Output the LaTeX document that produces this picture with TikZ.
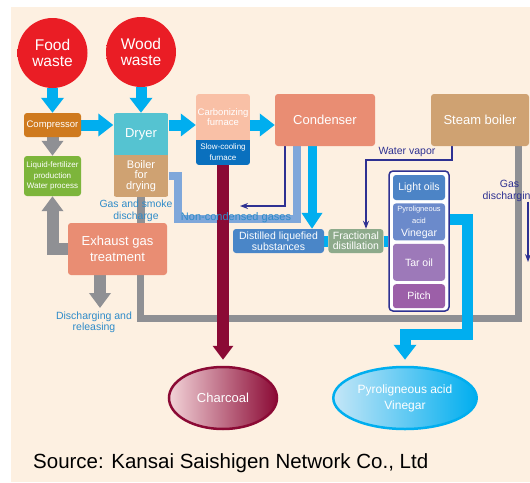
\documentclass[tikz,border=0pt]{standalone}
\usepackage{fontspec}
\setmainfont{Liberation Sans}
\usetikzlibrary{arrows.meta,positioning,shapes.geometric}

\definecolor{cream}{HTML}{FDF0E1}
\definecolor{cyanc}{HTML}{00AEEF}
\definecolor{grayc}{HTML}{8F9094}
\definecolor{maroonc}{HTML}{8B0A35}
\definecolor{navyc}{HTML}{2E3192}
\definecolor{lightb}{HTML}{7FA7DA}
\definecolor{labelb}{HTML}{2E8BC9}
\definecolor{compc}{HTML}{CF7A1E}
\definecolor{dryerc}{HTML}{55C3D1}
\definecolor{tanc}{HTML}{CFA272}
\definecolor{carbc}{HTML}{F9C0A6}
\definecolor{slowc}{HTML}{0A70BE}
\definecolor{salmonc}{HTML}{E98D73}
\definecolor{liqc}{HTML}{7DB53B}
\definecolor{distc}{HTML}{4A86C8}
\definecolor{fracc}{HTML}{8DAA8B}
\definecolor{oilc}{HTML}{4C84C6}
\definecolor{pyroc}{HTML}{6B8ACB}
\definecolor{tarc}{HTML}{9D79B9}
\definecolor{pitchc}{HTML}{9C5FA8}
\definecolor{charL}{HTML}{F2D3D8}
\definecolor{vinL}{HTML}{C4E6F7}
\definecolor{glowin}{HTML}{EA1D25}
\definecolor{glowmid}{HTML}{F0503C}
\definecolor{glowout}{HTML}{FAD3C0}

\pgfdeclareradialshading{wasteglow}{\pgfpoint{0bp}{0bp}}{color(0bp)=(glowin); color(27bp)=(glowin); color(41bp)=(glowmid); color(50bp)=(glowout)}

\pgfdeclarelayer{bg}
\pgfdeclarelayer{pipes}
\pgfsetlayers{bg,pipes,main}

\tikzset{
  box/.style={rounded corners=3pt, text=white, align=center, inner sep=1pt},
  part/.style={text=white, align=center, inner sep=1pt},
  waste/.style={circle, minimum size=70pt, inner sep=0pt, shading=wasteglow,
    text=white, align=center, font=\fontsize{15.5}{16}\selectfont},
  cyanpipe/.style={draw=cyanc, line width=11pt},
  cyanarrow/.style={cyanpipe, -{Triangle[width=22pt,length=15pt]}},
  graypipe/.style={draw=grayc, line width=7pt},
  grayarrow/.style={draw=grayc, line width=12pt, -{Triangle[width=21pt,length=15pt]}},
  maroonarrow/.style={draw=maroonc, line width=12pt, -{Triangle[width=20pt,length=14pt]}},
  navyarrow/.style={draw=navyc, line width=1.6pt, -{Stealth[length=8pt,width=6pt]}},
  note/.style={text=labelb, align=center, inner sep=0pt},
}

\begin{document}
\begin{tikzpicture}[x=1pt,y=-1pt]
\useasboundingbox (0,0) rectangle (530,482);
\begin{pgfonlayer}{bg}
  \fill[white] (0,0) rectangle (530,482);
  \fill[cream] (11,7) rectangle (530,482);
\end{pgfonlayer}

% inputs
\node[waste] (food) at (52.5,53) {Food\\waste};
\node[waste] (wood) at (141,52) {Wood\\waste};

% boxes
\node[box, fill=compc, minimum width=57pt, minimum height=24pt, font=\fontsize{9.5}{11}\selectfont] (comp) at (52.5,125) {Compressor};
\node[box, fill=liqc, minimum width=57pt, minimum height=40pt, font=\fontsize{8}{10.5}\selectfont] (liq) at (52.5,176) {Liquid-fertilizer\\production\\Water process};
\begin{scope}
  \clip[rounded corners=3pt] (113.5,113) rectangle (168.5,197);
  \node[part, fill=dryerc, minimum width=55pt, minimum height=42pt, font=\fontsize{13}{15}\selectfont] (dryer) at (141,134) {Dryer};
  \node[part, fill=tanc, minimum width=55pt, minimum height=42pt, font=\fontsize{11}{10.3}\selectfont] (boiler) at (141,176) {Boiler\\for\\drying};
\end{scope}
\begin{scope}
  \clip[rounded corners=3pt] (196,94) rectangle (250,165);
  \node[part, fill=carbc, minimum width=54pt, minimum height=46pt, font=\fontsize{9.5}{10}\selectfont] (carb) at (223,117) {Carbonizing\\furnace};
  \node[part, fill=slowc, minimum width=54pt, minimum height=25pt, font=\fontsize{8}{11}\selectfont] (slow) at (223,152.5) {Slow-cooling\\furnace};
\end{scope}
\node[box, fill=salmonc, minimum width=100pt, minimum height=52pt, font=\fontsize{13}{15}\selectfont] (cond) at (325,120) {Condenser};
\node[box, fill=tanc, minimum width=98pt, minimum height=52pt, font=\fontsize{13}{15}\selectfont] (steam) at (480,120) {Steam boiler};
\node[box, fill=salmonc, minimum width=99pt, minimum height=52pt, font=\fontsize{13}{15.5}\selectfont] (exh) at (117.5,249) {Exhaust gas\\treatment};
\node[box, fill=distc, minimum width=91pt, minimum height=24pt, font=\fontsize{10.5}{11}\selectfont] (dist) at (278.5,241) {Distilled liquefied\\substances};
\node[box, fill=fracc, minimum width=55pt, minimum height=24pt, font=\fontsize{10.5}{10}\selectfont, right=4pt of dist] (frac) {Fractional\\distillation};

% products
\node[draw=navyc, line width=1.5pt, rounded corners=4pt, fill=white, minimum width=60pt, minimum height=140pt] (group) at (419,241) {};
\node[box, fill=oilc, minimum width=52pt, minimum height=25pt, font=\fontsize{10.5}{12}\selectfont] (light) at (419,187.5) {Light oils};
\node[box, fill=pyroc, minimum width=52pt, minimum height=37pt, below=3pt of light] (pyro)
  {\fontsize{7.5}{8}\selectfont Pyroligneous\\\fontsize{7.5}{8}\selectfont acid\\[1pt]\fontsize{10.5}{12}\selectfont Vinegar};
\node[box, fill=tarc, minimum width=52pt, minimum height=37pt, font=\fontsize{10.5}{12}\selectfont, below=3pt of pyro] (tar) {Tar oil};
\node[box, fill=pitchc, minimum width=52pt, minimum height=24pt, font=\fontsize{10.5}{12}\selectfont, below=3pt of tar] (pitch) {Pitch};

% outputs
\node[ellipse, minimum width=108pt, minimum height=62pt, left color=charL, right color=maroonc, draw=maroonc, line width=2.5pt, text=white, font=\fontsize{13}{15}\selectfont] (charcoal) at (223,398) {Charcoal};
\node[ellipse, minimum width=108pt, minimum height=62pt, left color=vinL, right color=cyanc, draw=cyanc, line width=2.5pt, text=white, align=center, font=\fontsize{12}{16}\selectfont] (vinegar) at (405,398) {Pyroligneous acid\\Vinegar};

% labels
\node[note, font=\fontsize{10.4}{12}\selectfont] (gasdis) at (136,211) {Gas and smoke\\discharge};
\node[note, font=\fontsize{10.5}{11}\selectfont] (release) at (94,322) {Discharging and\\releasing};
\node[note, font=\fontsize{11}{12}\selectfont] (noncond) at (236,218) {Non-condensed gases};
\node[note, text=navyc, font=\fontsize{10.5}{12}\selectfont] (vapor) at (407,152) {Water vapor};
\node[note, text=navyc, font=\fontsize{10.5}{11.5}\selectfont] (gasout) at (509.5,191) {Gas\\discharging};
\node[anchor=base west, inner sep=0pt, font=\fontsize{20.5}{24}\selectfont] (source) at (33,468) {Source: Kansai Saishigen Network Co., Ltd};

% connectors
\coordinate (row) at (0,125);
\coordinate (relTip) at (100,308);
\coordinate (loopL) at (140,318);
\coordinate (loopR) at (518,318);
\coordinate (ngR) at (297,219);
\coordinate (ngL) at (178,219);
\coordinate (ngTop) at (178,176);
\coordinate (ncTurn) at (285,206);
\coordinate (ncTip) at (240,206);
\coordinate (vapX) at (452,160);
\coordinate (vapDrop) at (366,160);
\coordinate (gasEnd) at (528,262);
\coordinate (vinR) at (467,219);
\coordinate (vinB) at (467,334);
\coordinate (vinL) at (405,334);

\begin{pgfonlayer}{pipes}
  % gray flue lines
  \draw[grayarrow] (comp.south) -- (liq.north);
  \draw[grayarrow] (exh.west) -| (liq.south);
  \draw[draw=grayc, line width=8pt] (boiler.south) -- (boiler.south |- exh.north);
  \draw[grayarrow] (exh.south -| relTip) -- (relTip);
  \draw[graypipe] (exh.south -| loopL) -- (loopL) -- (loopR) -- (steam.south -| loopR);
  % gases and vapor
  \draw[draw=lightb, line width=8pt] (cond.south -| ngR) -- (ngR) -- (ngL) -- (ngTop) -- (ngTop -| boiler.east);
  \draw[navyarrow] (cond.south -| ncTurn) -- (ncTurn) -- (ncTip);
  \draw[navyarrow] (steam.south -| vapX) -- (vapX) -- (vapDrop) -- (vapDrop |- frac.north);
  \draw[navyarrow] (gasout.south -| gasEnd) -- (gasEnd);
  % charcoal
  \draw[maroonarrow, shorten >=6pt] (slow.south) -- (charcoal.north);
  % main flow
  \draw[cyanarrow] (food.south) -- (comp.north);
  \draw[cyanarrow] (wood.south) -- (dryer.north);
  \draw[cyanarrow] (comp.east) -- (comp.east -| dryer.west);
  \draw[cyanarrow] (dryer.east |- row) -- (carb.west |- row);
  \draw[cyanarrow] (carb.east |- row) -- (cond.west |- row);
  \draw[cyanarrow, line width=9pt, -{Triangle[width=20pt,length=16pt]}] (cond.south -| 312,0) -- (dist.north -| 312,0);
  \draw[cyanpipe] (dist.east) -- (frac.west);
  \draw[cyanpipe] (frac.east) -- (frac.east -| group.west);
  \draw[cyanpipe, line cap=rect] (group.east |- vinR) -- (vinR) -- (vinB) -- (vinL);
  \draw[cyanarrow, shorten >=6pt] (vinL) -- (vinL |- vinegar.north);
\end{pgfonlayer}
\end{tikzpicture}
\end{document}
